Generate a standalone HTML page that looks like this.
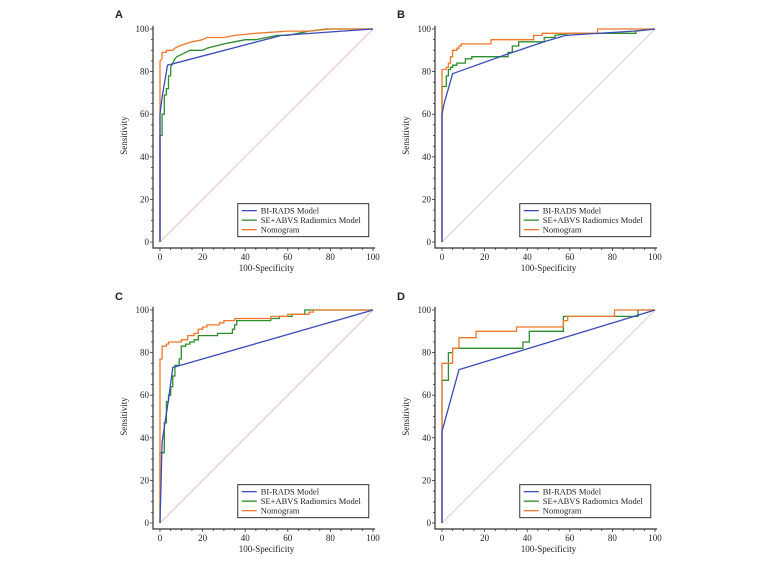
<!DOCTYPE html>
<html><head><meta charset="utf-8"><style>
body{margin:0;background:#fff;}
svg text{font-family:"Liberation Serif",serif;font-size:9px;fill:#222;}
svg text.lg{font-size:8.5px;}
</style></head><body>
<svg id="c" width="783" height="568" viewBox="0 0 783 568" xmlns="http://www.w3.org/2000/svg"></svg>
<script>
const panelLabels=["A","B","C","D"];
const seriesNames=["BI-RADS Model","SE+ABVS Radiomics Model","Nomogram"];
const xTicks=[0,20,40,60,80,100];
const yTicks=[0,20,40,60,80,100];
const A_blue=[[0,0],[0,60],[1,68],[3.5,83],[57,97],[100,100]];
const A_green=[[0,0],[0,50],[1,50],[1,60],[2,60],[2,69],[3,69],[3,72],[4,72],[4,78],[5,78],[5,82],[6,84],[7,86],[8,87],[10,88],[12,89],[14,90],[20,90],[22,91],[30,93],[35,94],[40,95],[45,95],[55,97],[60,97],[65,98],[70,99],[78,100],[100,100]];
const A_orange=[[0,0],[0,85],[1,86],[1,89],[3,89],[3,90],[6,90],[7,91],[9,92],[12,93],[15,94],[20,95],[22,96],[30,96],[35,97],[45,98],[60,99],[70,99],[80,100],[100,100]];
const B_blue=[[0,0],[0,60],[1,65],[5,79],[30,88],[48,94],[58,97],[90,99],[100,100]];
const B_green=[[0,0],[0,73],[2,73],[2,78],[3,78],[3,81],[4,81],[4,82],[5,82],[5,83],[7,83],[7,84],[11,84],[11,86],[14,86],[14,87],[31,87],[31,89],[33,89],[33,92],[36,92],[36,94],[48,94],[48,96],[53,96],[53,97],[60,98],[91,98],[91,99],[100,100]];
const B_orange=[[0,0],[0,81],[2,81],[2,82],[3,82],[3,84],[4,84],[4,87],[5,87],[5,90],[7,90],[7,91],[8,91],[8,92],[9,92],[9,93],[23,93],[23,95],[43,95],[43,97],[47,97],[47,98],[73,98],[73,100],[100,100]];
const C_blue=[[0,0],[1,38],[4,58],[6,73],[100,100]];
const C_green=[[0,0],[0,33],[2,33],[2,47],[3,47],[3,57],[4,57],[4,60],[5,60],[5,64],[6,64],[6,69],[7,69],[7,74],[9,74],[9,77],[10,77],[10,83],[12,83],[12,84],[14,84],[14,85],[16,85],[16,86],[18,86],[18,88],[27,88],[27,89],[34,89],[34,91],[35,91],[35,93],[36,93],[36,95],[52,95],[52,96],[56,96],[56,97],[62,97],[62,98],[68,98],[68,100],[100,100]];
const C_orange=[[0,0],[0,77],[1,77],[1,83],[3,83],[3,84],[4,84],[4,85],[10,85],[10,86],[13,86],[13,88],[16,88],[16,89],[18,89],[18,91],[20,91],[20,92],[22,92],[22,93],[28,93],[28,94],[30,94],[30,95],[35,95],[35,96],[52,96],[52,97],[60,97],[60,98],[70,98],[70,99],[72,99],[72,100],[100,100]];
const D_blue=[[0,0],[0,43],[8,72],[100,100]];
const D_green=[[0,0],[0,67],[3,67],[3,80],[5,80],[5,82],[38,82],[38,85],[41,85],[41,90],[57,90],[57,97],[92,97],[92,100],[100,100]];
const D_orange=[[0,0],[0,75],[5,75],[5,82],[8,82],[8,87],[16,87],[16,90],[35,90],[35,92],[57,92],[57,95],[59,95],[59,97],[81,97],[81,100],[100,100]];

const NS="http://www.w3.org/2000/svg";
const svg=document.getElementById('c');
const colors=["#3b4bb8","#2a8f2a","#f0782a"];
const panels=[
 {ox:160,oy:242,lx:115,ly:18,diag:"#e6bcbc",s:[A_blue,A_green,A_orange]},
 {ox:442,oy:242,lx:397,ly:18,diag:"#d0d0d0",s:[B_blue,B_green,B_orange]},
 {ox:160,oy:523,lx:115,ly:300,diag:"#e6bcbc",s:[C_blue,C_green,C_orange]},
 {ox:442,oy:523,lx:397,ly:300,diag:"#d0d0d0",s:[D_blue,D_green,D_orange]}];
const K=2.13;
function mk(t,a,p){const e=document.createElementNS(NS,t);for(const k in a)e.setAttribute(k,a[k]);(p||svg).appendChild(e);return e;}
panels.forEach((P,i)=>{
 const g=mk('g',{});
 
 
 const X=v=>P.ox+v*K, Y=v=>P.oy-v*K;
 const lab=mk('text',{x:P.lx,y:P.ly,'font-weight':'bold',style:'font-family:Liberation Sans,sans-serif;font-size:11px'},g);
 lab.textContent=panelLabels[i];
 
 
 const ax=mk('path',{d:`M${P.ox-7},${Y(101.5)}V${P.oy+6}H${X(101)}`,stroke:'#333','stroke-width':1.2,fill:'none'},g);
 
 
 for(let v=0;v<=100;v+=5){
  const big=v%20===0;
  mk('line',{x1:X(v),x2:X(v),y1:P.oy+6,y2:P.oy+6+(big?3:2),stroke:'#333','stroke-width':0.8},g);
  mk('line',{y1:Y(v),y2:Y(v),x1:P.ox-7,x2:P.ox-7-(big?3:2),stroke:'#333','stroke-width':0.8},g);
 }
 xTicks.forEach(v=>{const t=mk('text',{x:X(v),y:P.oy+18,'text-anchor':'middle'},g);t.textContent=v;
  });
 yTicks.forEach(v=>{const t=mk('text',{x:P.ox-11,y:Y(v)+3,'text-anchor':'end'},g);t.textContent=v;
  });
 const xt=mk('text',{x:X(50),y:P.oy+29,'text-anchor':'middle'},g);xt.textContent='100-Specificity';
 
 const yt=mk('text',{x:0,y:0,'text-anchor':'middle',transform:`translate(${P.ox-33},${Y(50)}) rotate(-90)`},g);yt.textContent='Sensitivity';
 
 const dg=mk('line',{x1:X(0),y1:Y(0),x2:X(100),y2:Y(100),stroke:P.diag,'stroke-width':0.9},g);
 
 [1,2,0].forEach(k=>{
  const pts=P.s[k].map(p=>X(p[0]).toFixed(1)+','+Y(p[1]).toFixed(1)).join(' ');
  const pl=mk('polyline',{points:pts,fill:'none',stroke:colors[k],'stroke-width':1.3},g);
  
  
 });
 const lg=mk('g',{},g);
 
 
 const lx=X(36.5), ly=Y(18);
 mk('rect',{x:lx,y:ly,width:131,height:33,fill:'#fff',stroke:'#333','stroke-width':1},lg);
 seriesNames.forEach((n,k)=>{
  mk('line',{x1:lx+4,x2:lx+19,y1:ly+7+k*9.5,y2:ly+7+k*9.5,stroke:colors[k],'stroke-width':1.3},lg);
  const t=mk('text',{x:lx+23,y:ly+10+k*9.5,'class':'lg'},lg);t.textContent=n;
  
 });
});
</script>
</body></html>
